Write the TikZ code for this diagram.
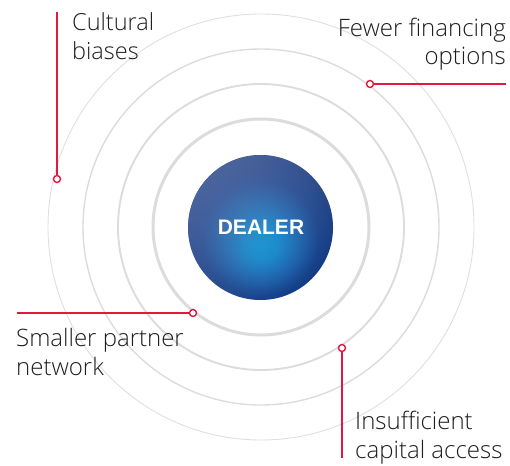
\documentclass[tikz,border=0pt]{standalone}
\usepackage{fontspec}
\setmainfont{Open Sans}[UprightFont=* Light]
\newfontfamily\dealerfont{Liberation Sans}
\usetikzlibrary{fadings}
\definecolor{ringgrey}{HTML}{DCDCDC}
\definecolor{accent}{HTML}{E4173E}
\definecolor{labeltext}{HTML}{1E1E1E}
\definecolor{sphbright}{HTML}{0598D8}
\definecolor{sphlight}{HTML}{0A8ACE}
\definecolor{sphmid}{HTML}{1564AF}
\definecolor{sphdeep}{HTML}{143F8A}
\definecolor{sphnavy}{HTML}{11347A}
\definecolor{sheen}{HTML}{7C8CB8}
\pgfdeclareradialshading{sphereshade}{\pgfpoint{0bp}{-6bp}}{%
  color(0bp)=(sphbright); color(6bp)=(sphlight); color(13bp)=(sphmid); color(20bp)=(sphdeep); color(27bp)=(sphnavy); color(50bp)=(sphnavy)}
\tikzfading[name=sheenfade, top color=transparent!45, middle color=transparent!100, bottom color=transparent!100]
\tikzset{
  ring/.style={draw=ringgrey},
  leader/.style={draw=accent, line width=1.3pt},
  marker/.style={circle, draw=accent, fill=white, line width=1.4pt, minimum size=7pt, inner sep=0pt},
  lbl/.style={text=labeltext, font=\fontsize{24}{28.5}\selectfont, inner sep=0pt},
}
\begin{document}
\begin{tikzpicture}[x=1pt,y=-1pt]
\useasboundingbox (0,0) rectangle (510,465);
\coordinate (c) at (261,227);
% rings
\draw[ring, line width=0.9pt, draw=ringgrey!90] (c) circle[radius=213pt];
\draw[ring, line width=1.4pt] (c) circle[radius=178pt];
\draw[ring, line width=1.9pt] (c) circle[radius=143pt];
\draw[ring, line width=3pt] (c) circle[radius=108pt];
% sphere
\shade[shading=sphereshade] (260.5,227.5) circle[radius=72.5pt];
\fill[sheen, path fading=sheenfade, fading angle=40] (260.5,227.5) circle[radius=72.5pt];
\node[text=white, font=\dealerfont\bfseries\fontsize{21}{25}\selectfont] (dealer) at (261,227.5) {DEALER};
% markers
\node[marker] (m1) at (57,179) {};
\node[marker] (m2) at (370,84) {};
\node[marker] (m3) at (193,313) {};
\node[marker] (m4) at (342,348) {};
\coordinate (e1) at (57,12);
\coordinate (e2) at (506,84);
\coordinate (e3) at (17,313);
\coordinate (e4) at (342,458);
\draw[leader] (m1) -- (e1);
\draw[leader] (m2) -- (e2);
\draw[leader] (m3) -- (e3);
\draw[leader] (m4) -- (e4);
% labels
\node[lbl, font=\fontsize{23.5}{29.5}\selectfont, anchor=base west, align=left] (t1) at (72,60) {Cultural\\biases};
\node[lbl, anchor=base east, align=right] (t2) at (506,65) {Fewer financing\\options};
\node[lbl, anchor=base west, align=left] (t3) at (16,375) {Smaller partner\\network};
\node[lbl, anchor=base west, align=left] (t4) at (355,458) {Insufficient\\capital access};
\end{tikzpicture}
\end{document}
